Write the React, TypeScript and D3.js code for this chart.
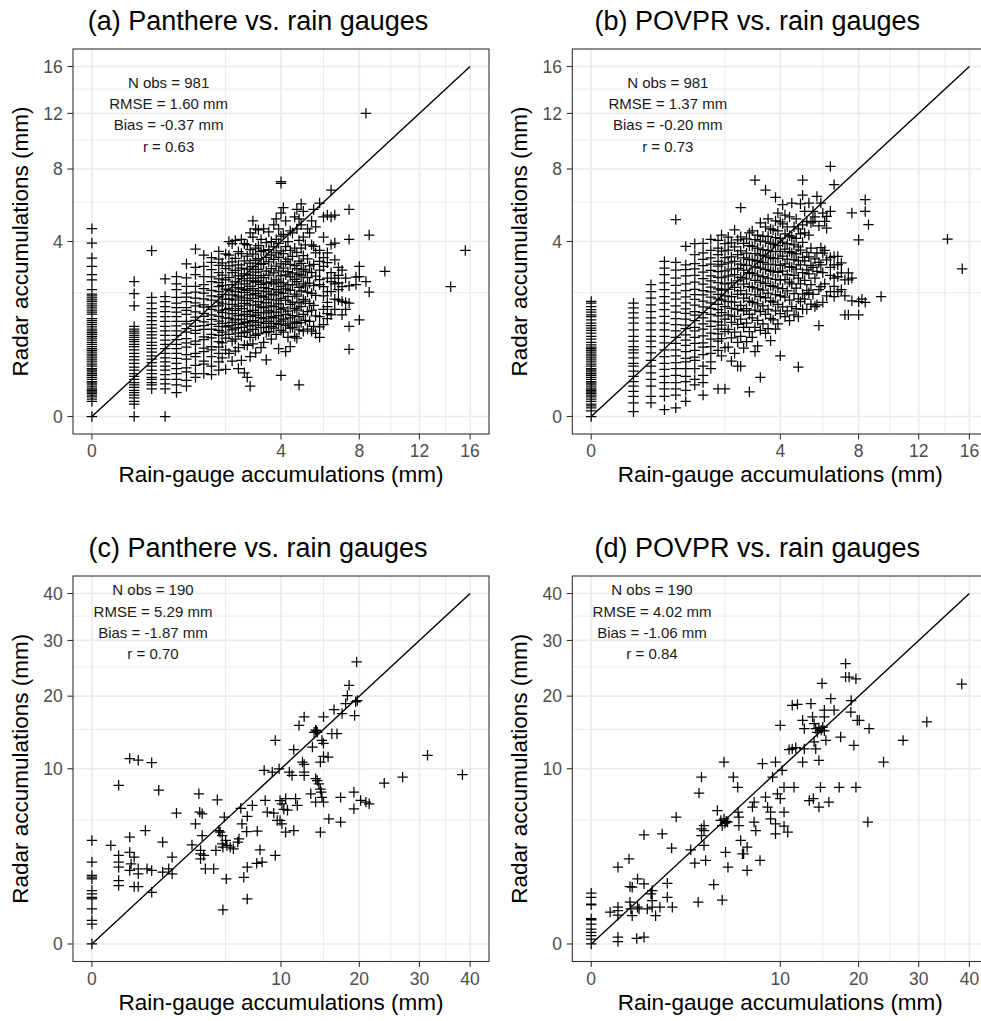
import React from 'react';
import * as d3 from 'd3';

const FONT = '"Liberation Sans", Arial, Helvetica, sans-serif';

// ---------- axis breaks ----------
const hourlyMajorTicks = [0, 4, 8, 12, 16];
const hourlyMinorBreaks = [2, 6, 10, 14];
const dailyMajorTicks = [0, 10, 20, 30, 40];
const dailyMinorBreaks = [5, 15, 25, 35];

// ---------- titles & statistics ----------
const panelTitles = [
  '(a) Panthere vs. rain gauges',
  '(b) POVPR vs. rain gauges',
  '(c) Panthere vs. rain gauges',
  '(d) POVPR vs. rain gauges',
];
const statsA = ['N obs = 981', 'RMSE = 1.60 mm', 'Bias = -0.37 mm', 'r = 0.63'];
const statsB = ['N obs = 981', 'RMSE = 1.37 mm', 'Bias = -0.20 mm', 'r = 0.73'];
const statsC = ['N obs = 190', 'RMSE = 5.29 mm', 'Bias = -1.87 mm', 'r = 0.70'];
const statsD = ['N obs = 190', 'RMSE = 4.02 mm', 'Bias = -1.06 mm', 'r = 0.84'];

const xAxisTitle = 'Rain-gauge accumulations (mm)';
const yAxisTitle = 'Radar accumulations (mm)';

// ---------- hourly Panthere: [gauge value, radar values at that gauge value] ----------
const hourlyPanthere: [number, number[]][] = [
  [0, [0, 0, 0.03, 0.04, 0.05, 0.06, 0.07, 0.08, 0.09, 0.1, 0.115, 0.13, 0.145, 0.16, 0.18, 0.2, 0.22, 0.24, 0.26, 0.28, 0.3, 0.33, 0.36, 0.39, 0.42, 0.45, 0.48, 0.51, 0.54, 0.57, 0.6, 0.64, 0.68, 0.72, 0.76, 0.8, 0.84, 0.88, 0.92, 0.96, 1.0, 1.05, 1.1, 1.15, 1.2, 1.25, 1.37, 1.42, 1.48, 1.54, 1.6, 1.66, 1.72, 1.78, 1.84, 1.9, 1.96, 2.1, 2.44, 2.63, 2.94, 3.28, 3.93, 4.61]],
  [0.2, [0, 0.02, 0.03, 0.045, 0.06, 0.075, 0.09, 0.11, 0.13, 0.15, 0.18, 0.21, 0.24, 0.28, 0.32, 0.37, 0.42, 0.47, 0.52, 0.58, 0.64, 0.68, 0.73, 0.77, 0.82, 0.86, 0.91, 0.95, 1.0, 1.06, 1.6, 1.97, 2.38]],
  [0.4, [0.1, 0.13, 0.15, 0.18, 0.2, 0.24, 0.28, 0.33, 0.38, 0.43, 0.48, 0.54, 0.6, 0.66, 0.72, 0.8, 0.87, 0.94, 1.02, 1.1, 1.2, 1.3, 1.4, 1.52, 1.68, 1.85, 3.59]],
  [0.6, [0, 0.1, 0.14, 0.18, 0.23, 0.28, 0.33, 0.39, 0.45, 0.52, 0.6, 0.68, 0.76, 0.86, 0.96, 1.06, 1.18, 1.3, 1.44, 1.58, 1.72, 1.88, 2.47]],
  [0.8, [0.075, 0.13, 0.18, 0.24, 0.3, 0.37, 0.44, 0.52, 0.6, 0.68, 0.77, 0.86, 0.96, 1.07, 1.18, 1.3, 1.42, 1.55, 1.68, 1.85, 2.1, 2.3, 2.56]],
  [1.0, [0.12, 0.17, 0.26, 0.31, 0.43, 0.5, 0.63, 0.71, 0.79, 0.93, 1.01, 1.12, 1.18, 1.36, 1.47, 1.55, 1.72, 1.86, 1.99, 2.21, 2.51, 3.04]],
  [1.2, [0.2, 0.24, 0.34, 0.47, 0.52, 0.68, 0.74, 0.9, 0.97, 1.06, 1.21, 1.29, 1.43, 1.6, 1.69, 1.83, 2.02, 2.21, 2.63, 2.9, 3.66]],
  [1.4, [0.24, 0.36, 0.4, 0.55, 0.61, 0.77, 0.83, 0.99, 1.08, 1.17, 1.31, 1.39, 1.56, 1.63, 1.81, 1.99, 2.14, 2.27, 2.56, 2.94, 3.4]],
  [1.6, [0.23, 0.33, 0.47, 0.58, 0.64, 0.81, 0.88, 1.0, 1.11, 1.23, 1.35, 1.5, 1.58, 1.77, 1.9, 2.08, 2.38, 2.55, 2.82, 3.1, 3.3]],
  [1.8, [0.28, 0.39, 0.52, 0.63, 0.73, 0.86, 0.97, 1.06, 1.19, 1.31, 1.46, 1.6, 1.71, 1.87, 2.04, 2.2, 2.34, 2.47, 2.7, 2.98, 3.23, 3.56]],
  [1.9, [0.45, 0.71, 0.93, 1.13, 1.41, 1.66, 1.94, 2.25, 2.61, 3.08]],
  [2.0, [0.29, 0.58, 0.8, 1.05, 1.27, 1.49, 1.79, 2.12, 2.44, 2.86, 3.45]],
  [2.1, [0.52, 0.88, 1.08, 1.26, 1.53, 1.81, 2.09, 2.52, 2.96, 3.4, 4.0]],
  [2.2, [0.4, 0.74, 0.98, 1.16, 1.38, 1.64, 1.93, 2.27, 2.7, 3.12, 3.9]],
  [2.3, [0.56, 0.78, 1.02, 1.22, 1.47, 1.77, 2.04, 2.37, 2.79, 3.27, 4.05]],
  [2.4, [0.3, 0.62, 0.91, 1.11, 1.33, 1.59, 1.89, 2.17, 2.58, 3.0, 3.55]],
  [2.5, [0.41, 0.84, 1.04, 1.24, 1.52, 1.84, 2.12, 2.48, 2.88, 3.47, 4.1]],
  [2.6, [0.25, 0.67, 0.92, 1.14, 1.36, 1.67, 2.01, 2.3, 2.66, 3.16, 3.9]],
  [2.7, [0.2, 0.66, 0.95, 1.17, 1.44, 1.76, 2.08, 2.4, 2.84, 3.36, 3.85]],
  [2.8, [0.12, 0.47, 0.82, 1.07, 1.31, 1.62, 1.93, 2.21, 2.61, 3.07, 3.64, 4.4]],
  [2.9, [0.69, 0.99, 1.2, 1.47, 1.82, 2.14, 2.5, 2.93, 3.44, 4.2, 5.0]],
  [3.0, [0.53, 0.86, 1.09, 1.34, 1.63, 1.97, 2.36, 2.72, 3.18, 3.7, 4.6]],
  [3.1, [0.89, 1.16, 1.41, 1.72, 2.06, 2.4, 2.83, 3.26, 3.81, 4.55]],
  [3.2, [0.62, 1.03, 1.28, 1.57, 1.9, 2.28, 2.59, 3.02, 3.55, 4.1]],
  [3.3, [0.72, 1.04, 1.25, 1.55, 1.86, 2.17, 2.52, 3.05, 3.6, 4.6]],
  [3.4, [0.42, 0.92, 1.13, 1.4, 1.69, 2.04, 2.33, 2.76, 3.31, 3.95]],
  [3.5, [0.94, 1.18, 1.46, 1.79, 2.14, 2.61, 3.12, 3.64, 4.45]],
  [3.6, [0.78, 1.06, 1.3, 1.6, 1.96, 2.37, 2.86, 3.4, 4.0]],
  [3.7, [1.02, 1.27, 1.58, 1.93, 2.3, 2.69, 3.22, 3.76, 4.8]],
  [3.8, [0.88, 1.13, 1.42, 1.77, 2.1, 2.44, 2.95, 3.5, 4.1, 5.1]],
  [3.9, [0.6, 1.11, 1.33, 1.66, 2.02, 2.36, 2.77, 3.31, 3.92, 4.6]],
  [4.0, [0.22, 0.97, 1.19, 1.5, 1.82, 2.21, 2.58, 3.04, 3.58, 4.25, 5.4, 7.1, 7.2]],
  [4.1, [0.93, 1.24, 1.54, 1.98, 2.33, 2.88, 3.46, 4.33, 5.7]],
  [4.2, [0.55, 1.08, 1.36, 1.76, 2.13, 2.62, 3.13, 3.77, 5.0]],
  [4.3, [0.82, 1.12, 1.45, 1.88, 2.27, 2.74, 3.24, 4.0]],
  [4.4, [0.64, 1.02, 1.27, 1.64, 2.08, 2.55, 3.02, 3.6, 4.5]],
  [4.5, [1.04, 1.33, 1.71, 2.26, 2.69, 3.35, 4.4]],
  [4.6, [0.84, 1.17, 1.53, 1.96, 2.46, 2.97, 3.7, 5.2]],
  [4.7, [0.8, 1.13, 1.48, 1.89, 2.38, 2.86, 3.52, 4.6, 5.6]],
  [4.8, [0.13, 0.98, 1.3, 1.69, 2.18, 2.64, 3.15, 4.05, 5.1]],
  [4.9, [1.15, 1.58, 2.06, 2.58, 3.06, 3.7, 4.8, 5.9]],
  [5.0, [0.95, 1.36, 1.79, 2.3, 2.83, 3.38, 4.2, 5.5]],
  [5.1, [1.21, 1.74, 2.23, 2.76, 3.85]],
  [5.2, [1.0, 1.44, 2.02, 2.52, 3.25, 4.6]],
  [5.3, [1.18, 1.67, 2.32, 2.96, 4.4]],
  [5.4, [0.95, 1.48, 1.98, 2.7, 3.85, 5.0]],
  [5.5, [1.06, 1.61, 2.24, 3.02, 3.78, 5.6]],
  [5.6, [0.9, 1.32, 1.92, 2.57, 3.5, 4.7]],
  [5.8, [0.82, 1.05, 1.3, 2.27, 2.45, 2.8, 3.14, 3.6, 5.95]],
  [6.0, [1.1, 1.5, 1.9, 2.2, 2.94, 3.3, 4.2, 5.2]],
  [6.2, [1.25, 1.38, 1.58, 1.7, 2.04, 2.5, 3.09, 3.5, 5.3]],
  [6.4, [1.35, 2.04, 2.38, 2.7, 3.86, 5.2, 6.7]],
  [6.6, [1.5, 1.8, 2.3, 2.5, 3.2, 3.93, 5.3]],
  [6.8, [1.78, 2.1, 2.33, 2.6, 2.9]],
  [7.0, [1.35, 1.73, 2.2, 2.8]],
  [7.2, [1.5, 1.7, 2.5]],
  [7.4, [0.59, 1.06, 1.68, 2.23, 4.1, 5.6]],
  [7.8, [2.27, 2.54]],
  [8.0, [1.22, 2.94, 2.56]],
  [8.4, [2.38, 12.0]],
  [8.6, [2.02, 4.3]],
  [9.6, [2.75]],
  [14.4, [2.2]],
  [15.6, [3.6]],
];

// ---------- hourly POVPR ----------
const hourlyPovpr: [number, number[]][] = [
  [0, [0, 0, 0.004, 0.01, 0.015, 0.02, 0.03, 0.04, 0.05, 0.06, 0.07, 0.08, 0.09, 0.1, 0.115, 0.13, 0.145, 0.16, 0.18, 0.2, 0.22, 0.24, 0.26, 0.28, 0.3, 0.33, 0.36, 0.39, 0.42, 0.45, 0.48, 0.51, 0.54, 0.57, 0.6, 0.63, 0.67, 0.72, 0.78, 0.84, 0.91, 0.97, 1.02, 1.08, 1.14, 1.22, 1.3, 1.35, 1.42, 1.49, 1.58, 1.68, 1.73]],
  [0.2, [0.003, 0.024, 0.053, 0.082, 0.12, 0.16, 0.21, 0.27, 0.33, 0.37, 0.45, 0.53, 0.58, 0.64, 0.74, 0.84, 0.98, 1.14, 1.27, 1.4, 1.54, 1.68]],
  [0.4, [0.024, 0.053, 0.12, 0.18, 0.25, 0.33, 0.41, 0.53, 0.64, 0.74, 0.84, 0.98, 1.14, 1.27, 1.44, 1.63, 1.83, 2.04, 2.27]],
  [0.6, [0.006, 0.053, 0.1, 0.15, 0.21, 0.29, 0.37, 0.47, 0.58, 0.71, 0.84, 0.98, 1.14, 1.31, 1.49, 1.68, 1.88, 2.1, 2.33, 2.63, 2.88, 3.14]],
  [0.8, [0.01, 0.06, 0.1, 0.15, 0.22, 0.3, 0.38, 0.48, 0.58, 0.7, 0.82, 0.96, 1.1, 1.25, 1.42, 1.6, 1.8, 2.0, 2.25, 2.5, 2.8, 3.1, 5.06]],
  [1.0, [0.03, 0.09, 0.16, 0.21, 0.3, 0.39, 0.44, 0.55, 0.66, 0.76, 0.87, 1.01, 1.09, 1.24, 1.39, 1.51, 1.69, 1.87, 2.07, 2.3, 2.58, 2.82, 3.0, 3.78]],
  [1.2, [0.13, 0.18, 0.3, 0.41, 0.46, 0.57, 0.7, 0.82, 0.96, 1.04, 1.2, 1.34, 1.44, 1.62, 1.79, 1.94, 2.11, 2.36, 2.6, 2.85, 3.05, 3.42, 3.9]],
  [1.4, [0.06, 0.15, 0.22, 0.33, 0.5, 0.63, 0.71, 0.85, 1.0, 1.12, 1.27, 1.41, 1.57, 1.74, 1.93, 2.07, 2.29, 2.48, 2.72, 2.97, 3.22, 3.5, 3.92]],
  [1.6, [0.3, 0.39, 0.52, 0.64, 0.78, 0.91, 1.06, 1.19, 1.36, 1.53, 1.69, 1.86, 2.03, 2.19, 2.4, 2.58, 2.79, 3.03, 3.29, 3.6, 4.1]],
  [1.8, [0.1, 0.57, 0.74, 0.89, 1.0, 1.17, 1.32, 1.49, 1.64, 1.81, 1.95, 2.13, 2.34, 2.53, 2.74, 2.95, 3.14, 3.42, 3.7, 4.05]],
  [1.9, [0.48, 0.79, 1.09, 1.41, 1.77, 2.09, 2.52, 3.02, 3.57, 4.3]],
  [2.0, [0.1, 0.62, 0.94, 1.24, 1.58, 1.9, 2.3, 2.77, 3.3, 3.9]],
  [2.1, [0.63, 0.99, 1.35, 1.72, 2.11, 2.57, 3.08, 3.62, 4.2]],
  [2.2, [0.4, 0.81, 1.16, 1.53, 1.88, 2.33, 2.84, 3.33, 3.94]],
  [2.3, [0.52, 0.93, 1.31, 1.71, 2.18, 2.63, 3.14, 3.76, 4.55]],
  [2.4, [0.33, 0.72, 1.11, 1.49, 1.95, 2.4, 2.87, 3.42, 4.08]],
  [2.5, [0.33, 0.84, 1.24, 1.61, 2.07, 2.53, 3.03, 3.58, 4.22, 5.7]],
  [2.6, [0.61, 1.04, 1.46, 1.83, 2.29, 2.8, 3.29, 3.92]],
  [2.7, [0.73, 1.14, 1.52, 1.96, 2.47, 2.98, 3.49, 4.12]],
  [2.8, [0.08, 0.94, 1.36, 1.74, 2.2, 2.7, 3.22, 3.81, 4.4]],
  [2.9, [0.82, 1.27, 1.7, 2.18, 2.68, 3.2, 3.78, 4.5]],
  [3.0, [0.55, 1.04, 1.48, 1.93, 2.42, 2.92, 3.47, 4.09, 7.3]],
  [3.1, [0.65, 1.21, 1.66, 2.13, 2.61, 3.15, 3.7, 4.3]],
  [3.2, [0.2, 0.97, 1.44, 1.88, 2.36, 2.88, 3.4, 4.02, 4.9]],
  [3.3, [1.12, 1.6, 2.09, 2.56, 3.1, 3.64, 4.25]],
  [3.4, [0.9, 1.36, 1.84, 2.31, 2.82, 3.36, 3.98, 4.7, 6.7]],
  [3.5, [1.01, 1.5, 1.99, 2.5, 3.03, 3.6, 4.24, 5.1]],
  [3.6, [0.75, 1.26, 1.75, 2.24, 2.77, 3.3, 3.92, 4.6]],
  [3.7, [1.22, 1.71, 2.21, 2.74, 3.26, 3.88, 4.55]],
  [3.8, [1.0, 1.46, 1.94, 2.46, 3.0, 3.55, 4.18, 5.0, 6.27]],
  [3.9, [1.12, 1.64, 2.16, 2.71, 3.27, 3.83, 4.5, 5.4]],
  [4.0, [0.48, 1.38, 1.9, 2.43, 2.98, 3.56, 4.13, 4.95]],
  [4.1, [1.57, 2.14, 2.76, 3.36, 3.97, 4.85, 5.86]],
  [4.2, [1.3, 1.86, 2.45, 3.04, 3.66, 4.36, 5.3]],
  [4.3, [1.46, 2.06, 2.64, 3.24, 3.9, 4.7]],
  [4.4, [1.2, 1.77, 2.36, 2.93, 3.55, 4.27, 5.2]],
  [4.5, [1.58, 2.3, 2.9, 3.5, 4.2, 5.95]],
  [4.6, [1.35, 1.97, 2.6, 3.2, 3.85, 4.7]],
  [4.7, [1.52, 2.15, 2.84, 3.45, 4.15, 5.1]],
  [4.8, [0.32, 1.3, 1.81, 2.5, 3.16, 3.76, 4.6]],
  [4.9, [1.72, 2.3, 3.0, 3.62, 4.36, 5.9]],
  [5.0, [1.5, 1.96, 2.7, 3.31, 3.96, 4.8, 6.4, 7.3]],
  [5.1, [1.8, 2.42, 3.16, 4.4, 5.5]],
  [5.2, [1.5, 2.08, 2.81, 3.52, 4.97]],
  [5.3, [2.0, 2.66, 3.33, 4.3, 5.95]],
  [5.4, [1.65, 2.27, 2.98, 3.7, 4.9]],
  [5.5, [1.95, 2.9, 4.97, 5.5]],
  [5.6, [1.58, 2.5, 3.25, 5.2]],
  [5.7, [1.63, 2.75, 3.5, 6.33]],
  [5.8, [1.08, 2.1, 3.1, 4.75]],
  [5.9, [2.2, 3.0, 3.72, 5.95]],
  [6.0, [1.7, 2.7, 3.49, 5.4]],
  [6.1, [2.3, 3.6, 4.97]],
  [6.2, [1.9, 3.2, 4.63, 5.23]],
  [6.4, [2.04, 2.6, 2.9, 3.3, 5.5, 8.17]],
  [6.6, [1.88, 2.21, 2.5, 3.0, 3.35, 7.02]],
  [6.8, [2.04, 2.56, 3.01, 3.35]],
  [7.0, [2.1, 2.69, 3.08]],
  [7.2, [1.35, 1.9, 2.44]],
  [7.4, [1.35, 2.44, 2.69]],
  [7.6, [1.75, 2.5, 5.41]],
  [8.0, [1.35, 1.72, 4.08]],
  [8.2, [1.8]],
  [8.4, [1.7, 5.49, 6.14]],
  [8.6, [4.81]],
  [9.4, [1.88]],
  [14.2, [4.11]],
  [15.4, [2.85]],
];

// ---------- daily Panthere: [gauge, radar] ----------
const dailyPanthere: [number, number][] = [
  [0, 0], [0, 0.13], [0, 0.18], [0, 0.4], [0, 0.66], [0, 0.71], [0, 0.82], [0, 0.93], [0, 1.38], [0, 1.46], [0, 1.53], [0, 2.18], [0, 3.49],
  [0.1, 3.16], [0.2, 8.2], [0.2, 2.55], [0.2, 2.18], [0.2, 1.92], [0.2, 1.31], [0.2, 1.11],
  [0.4, 11.2], [0.6, 11.0], [1.0, 10.7], [0.4, 3.72], [0.4, 2.74], [0.43, 2.09], [0.4, 1.76], [0.5, 2.45], [0.6, 1.84], [0.6, 1.6], [0.6, 1.07], [0.5, 1.07],
  [0.8, 4.19], [0.85, 1.84], [1.0, 1.76], [1.0, 0.87], [1.25, 7.7], [1.4, 3.38], [1.4, 1.68], [1.65, 1.84], [1.8, 2.45], [1.8, 1.6], [2.0, 5.58],
  [2.8, 3.2], [3.0, 4.7], [3.2, 7.35], [3.25, 5.66], [3.4, 5.52], [3.4, 3.83], [3.3, 2.85], [3.3, 2.65], [3.5, 2.55], [3.3, 2.36], [3.6, 1.84],
  [4.15, 1.84], [4.4, 6.77], [4.3, 2.85], [4.5, 4.19], [4.6, 4.07], [4.75, 3.83], [4.8, 0.38], [5.05, 1.38], [4.75, 3.27], [4.8, 3.05], [4.9, 5.24],
  [5.1, 3.16], [5.35, 3.05], [5.6, 2.95], [5.0, 3.49], [5.95, 3.38], [6.05, 3.6], [6.2, 6.0], [6.3, 4.7], [6.75, 5.3], [6.7, 4.12], [6.45, 1.45],
  [6.75, 1.92], [6.75, 0.66], [7.2, 6.25], [7.65, 4.15], [7.9, 2.89], [7.6, 2.12], [8.1, 2.18], [8.3, 9.81], [8.4, 6.71], [8.6, 5.66], [9.25, 5.58],
  [9.6, 4.97], [9.1, 9.62], [9.4, 2.55], [9.4, 13.5], [9.9, 6.7], [10.1, 6.4], [10.3, 5.9], [9.8, 10.0], [9.9, 4.97], [10.1, 4.7], [10.5, 6.87],
  [10.7, 5.83], [10.5, 4.07], [10.9, 9.62], [11.2, 9.25], [11.4, 12.3], [11.4, 4.19], [11.6, 6.87], [11.8, 6.25], [12.0, 15.57], [12.4, 10.78],
  [12.6, 10.5], [12.6, 16.8], [12.6, 9.62], [12.6, 9.25], [13.4, 7.35], [13.6, 12.63], [13.8, 14.6], [14.0, 14.9], [14.2, 14.6], [14.1, 14.8],
  [14.0, 8.9], [14.2, 8.7], [14.4, 8.36], [14.6, 7.8], [14.7, 7.5], [14.8, 7.0], [14.0, 6.55], [15.0, 6.55], [14.6, 4.07], [15.0, 16.8],
  [14.8, 13.5], [15.0, 13.1], [14.6, 10.78], [15.0, 11.46], [15.7, 5.1], [15.6, 11.38], [16.1, 14.4], [16.4, 17.88], [16.8, 14.4], [17.3, 7.0],
  [17.3, 4.84], [17.5, 17.3], [18.0, 18.8], [18.25, 20.1], [18.5, 21.8], [19.2, 7.5], [19.2, 5.95], [19.3, 17.0], [19.45, 19.1], [19.7, 19.3],
  [19.6, 25.9], [20.2, 6.71], [21.0, 6.55], [21.5, 6.4], [23.9, 8.43], [27.0, 9.07], [31.5, 11.6], [38.4, 9.33],
];

// ---------- daily POVPR ----------
const dailyPovpr: [number, number][] = [
  [0, 0], [0, 0.008], [0, 0.023], [0, 0.044], [0, 0.073], [0, 0.13], [0, 0.19], [0, 0.21], [0, 0.5], [0, 0.52], [0, 0.71], [0, 0.84],
  [0.1, 0.33], [0.2, 1.92], [0.2, 0.44], [0.2, 0.36], [0.2, 0.27], [0.2, 0.015], [0.2, 0.002],
  [0.4, 2.36], [0.42, 1.07], [0.47, 1.05], [0.42, 0.57], [0.44, 0.4], [0.47, 0.26], [0.58, 0.01], [0.78, 0.015], [0.6, 1.38], [0.6, 0.44], [0.64, 0.4],
  [0.78, 3.88], [0.78, 1.18], [0.88, 0.4], [1.0, 0.82], [1.04, 0.93], [1.04, 0.61], [1.04, 0.44], [1.16, 0.26], [1.32, 0.44], [1.41, 3.95],
  [1.62, 1.2], [1.62, 0.71], [1.84, 0.44], [1.81, 2.99], [2.02, 5.24],
  [2.77, 2.89], [3.0, 2.13], [3.2, 0.57], [3.25, 7.41], [3.4, 9.07], [3.4, 4.32], [3.4, 3.83], [3.56, 3.16], [3.66, 2.27], [3.56, 4.57], [3.56, 4.19],
  [4.2, 1.15], [4.45, 5.8], [4.7, 4.97], [4.8, 4.57], [4.8, 0.63], [4.93, 10.78], [4.93, 5.1], [5.2, 4.84], [5.0, 4.75], [5.1, 4.9], [5.05, 2.74],
  [5.23, 1.92], [5.65, 9.07], [6.0, 8.0], [6.03, 5.66], [6.1, 5.24], [6.1, 4.57], [6.25, 3.49], [6.4, 2.65], [6.5, 2.65], [6.8, 1.76], [6.8, 3.05],
  [7.27, 6.1], [7.42, 6.55], [7.42, 4.84], [7.57, 4.19], [7.97, 2.27], [8.2, 10.58], [8.5, 7.03], [8.7, 6.1], [9.0, 5.66], [9.0, 5.1], [9.2, 9.07],
  [9.5, 10.78], [9.5, 4.7], [9.5, 3.95], [9.7, 7.35], [10.0, 6.87], [10.0, 15.57], [10.2, 9.81], [10.4, 8.0], [10.4, 5.66], [10.4, 4.52],
  [10.8, 4.07], [10.95, 12.3], [11.3, 12.4], [11.7, 12.55], [11.5, 8.0], [11.3, 18.55], [11.9, 18.7], [12.5, 10.78], [12.5, 16.3], [12.7, 15.1],
  [12.7, 12.4], [13.5, 18.8], [13.3, 6.7], [13.8, 6.87], [13.7, 16.8], [13.9, 15.8], [13.9, 13.3], [14.1, 12.4], [14.5, 6.1], [14.5, 10.98],
  [14.1, 15.1], [14.3, 14.6], [14.5, 15.2], [14.8, 14.9], [15.0, 15.3], [15.2, 14.8], [14.7, 8.0], [14.9, 22.1], [15.2, 17.8], [15.2, 16.8],
  [15.8, 6.55], [15.4, 13.5], [16.05, 19.6], [16.5, 17.8], [17.2, 8.0], [17.4, 13.95], [18.1, 25.6], [18.1, 23.2], [18.6, 23.2], [18.85, 17.5],
  [19.3, 12.85], [19.6, 8.0], [19.6, 22.9], [19.8, 16.3], [20.1, 16.3], [18.9, 19.3], [21.4, 4.84], [21.6, 15.1], [23.9, 10.78], [27.2, 13.5],
  [31.5, 16.05], [38.4, 22.0],
];

const flattenColumns = (cols: [number, number[]][]): [number, number][] =>
  cols.flatMap(([g, ys]) => ys.map((y) => [g, y] as [number, number]));

// ---------- panel ----------
interface PanelProps {
  left: number;
  top: number;
  width: number;
  height: number;
  title: string;
  stats: string[];
  points: [number, number][];
  maxValue: number;
  majorTicks: number[];
  minorBreaks: number[];
  statsDx: number;
  statsDy: number;
}

function expandedSqrt(maxValue: number, r0: number, r1: number) {
  const s = Math.sqrt(maxValue);
  const pad = 0.05 * s;
  return d3.scaleSqrt().domain([-(pad * pad), (s + pad) * (s + pad)]).range([r0, r1]);
}

function Panel(p: PanelProps) {
  const { left, top, width, height } = p;
  const right = left + width;
  const bottom = top + height;
  const x = expandedSqrt(p.maxValue, left, right);
  const y = expandedSqrt(p.maxValue, bottom, top);
  const arm = 5.2;
  let cross = '';
  for (const [gx, ry] of p.points) {
    const cx = x(gx);
    const cy = y(ry);
    cross += `M${(cx - arm).toFixed(2)},${cy.toFixed(2)}h${2 * arm}M${cx.toFixed(2)},${(cy - arm).toFixed(2)}v${2 * arm}`;
  }
  const tickLen = 5.6;
  return (
    <g>
      <text x={left + 185} y={top - 19.5} textAnchor="middle" fontSize={27} fill="#000" fontFamily={FONT}>
        {p.title}
      </text>
      {p.minorBreaks.map((v) => (
        <g key={'mn' + v}>
          <line x1={x(v)} x2={x(v)} y1={top} y2={bottom} stroke="#ebebeb" strokeWidth={1} />
          <line x1={left} x2={right} y1={y(v)} y2={y(v)} stroke="#ebebeb" strokeWidth={1} />
        </g>
      ))}
      {p.majorTicks.map((v) => (
        <g key={'mj' + v}>
          <line x1={x(v)} x2={x(v)} y1={top} y2={bottom} stroke="#ebebeb" strokeWidth={1.7} />
          <line x1={left} x2={right} y1={y(v)} y2={y(v)} stroke="#ebebeb" strokeWidth={1.7} />
        </g>
      ))}
      <path d={cross} stroke="#000" strokeWidth={1.25} fill="none" />
      <line x1={x(0)} y1={y(0)} x2={x(p.maxValue)} y2={y(p.maxValue)} stroke="#000" strokeWidth={1.4} />
      {p.stats.map((s, i) => (
        <text key={s} x={left + p.statsDx} y={top + p.statsDy + i * 21.3} textAnchor="middle" fontSize={15} fill="#1a1a1a" fontFamily={FONT}>
          {s}
        </text>
      ))}
      <rect x={left} y={top} width={width} height={height} fill="none" stroke="#333" strokeWidth={1.1} />
      {p.majorTicks.map((v) => (
        <g key={'t' + v}>
          <line x1={x(v)} x2={x(v)} y1={bottom} y2={bottom + tickLen} stroke="#333" strokeWidth={1.1} />
          <text x={x(v)} y={bottom + 23.4} textAnchor="middle" fontSize={17.5} fill="#4d4d4d" fontFamily={FONT}>
            {v}
          </text>
          <line x1={left - tickLen} x2={left} y1={y(v)} y2={y(v)} stroke="#333" strokeWidth={1.1} />
          <text x={left - 10.3} y={y(v)} dy="0.36em" textAnchor="end" fontSize={17.5} fill="#4d4d4d" fontFamily={FONT}>
            {v}
          </text>
        </g>
      ))}
      <text x={(left + right) / 2} y={bottom + 48.3} textAnchor="middle" fontSize={22.5} fill="#000" fontFamily={FONT}>
        {xAxisTitle}
      </text>
      <text
        transform={`translate(${left - 45},${(top + bottom) / 2}) rotate(-90)`}
        textAnchor="middle"
        fontSize={22.5}
        fill="#000"
        fontFamily={FONT}
      >
        {yAxisTitle}
      </text>
    </g>
  );
}

export default function App() {
  const hourlyA = flattenColumns(hourlyPanthere);
  const hourlyB = flattenColumns(hourlyPovpr);
  return (
    <svg
      width={981}
      height={1021}
      viewBox="0 0 981 1021"
      style={{ position: 'absolute', left: 0, top: 0, background: '#fff', display: 'block' }}
    >
      <rect x={0} y={0} width={981} height={1021} fill="#fff" />
      <Panel left={73} top={49} width={416} height={385} title={panelTitles[0]} stats={statsA} points={hourlyA}
        maxValue={16} majorTicks={hourlyMajorTicks} minorBreaks={hourlyMinorBreaks} statsDx={95.6} statsDy={38.7} />
      <Panel left={572.3} top={49} width={416} height={385} title={panelTitles[1]} stats={statsB} points={hourlyB}
        maxValue={16} majorTicks={hourlyMajorTicks} minorBreaks={hourlyMinorBreaks} statsDx={95.5} statsDy={38.7} />
      <Panel left={73} top={576} width={416} height={385.5} title={panelTitles[2]} stats={statsC} points={dailyPanthere}
        maxValue={40} majorTicks={dailyMajorTicks} minorBreaks={dailyMinorBreaks} statsDx={80} statsDy={19.4} />
      <Panel left={572.3} top={576} width={416} height={385.5} title={panelTitles[3]} stats={statsD} points={dailyPovpr}
        maxValue={40} majorTicks={dailyMajorTicks} minorBreaks={dailyMinorBreaks} statsDx={79.7} statsDy={19.4} />
    </svg>
  );
}
